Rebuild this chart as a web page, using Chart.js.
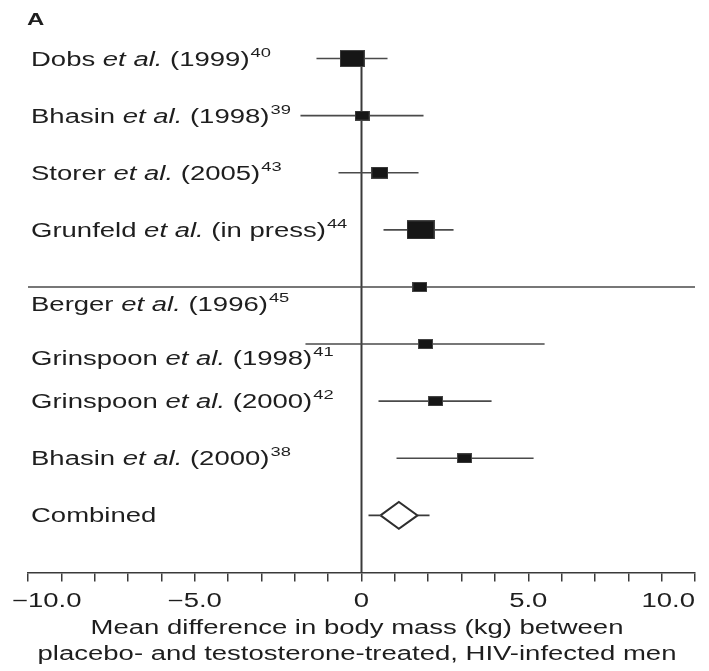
<!DOCTYPE html>
<html>
<head>
<meta charset="utf-8">
<script src="https://cdn.jsdelivr.net/npm/chart.js@4/dist/chart.umd.min.js"></script>
<style>
  html, body { margin: 0; padding: 0; background: #ffffff; }
  #wrap { width: 709px; height: 671px; position: relative; }
</style>
</head>
<body>
<div id="wrap"><canvas id="forest"></canvas></div>
<script>
// Trials in the meta-analysis (top to bottom)
const authors  = ['Dobs', 'Bhasin', 'Storer', 'Grunfeld', 'Berger', 'Grinspoon', 'Grinspoon', 'Bhasin'];
const years    = ['1999', '1998', '2005', 'in press', '1996', '1998', '2000', '2000'];
const refs     = ['40', '39', '43', '44', '45', '41', '42', '38'];
// Mean difference in body mass (kg) with 95% CI
const meanDiff = [-0.28, 0.02, 0.55, 1.77, 1.75, 1.92, 2.22, 3.09];
const ciLow    = [-1.35, -1.83, -0.69, 0.66, -10.0, -1.68, 0.51, 1.05];
const ciHigh   = [0.78, 1.86, 1.71, 2.76, 10.0, 5.49, 3.90, 5.16];
// Relative study weights (%)
const weights  = [22, 8, 11, 28, 7.5, 7.5, 8, 8];
// Pooled estimate
const combinedLabel = 'Combined';
const combinedMean = 1.12;
const combinedDiamond = [0.57, 1.68];
const combinedWhisker = [0.21, 2.04];
// x axis
const axisMin = -10, axisMax = 10;
const tickLabels = { '-10': '\u221210.0', '-5': '\u22125.0', '0': '0', '5': '5.0', '10': '10.0' };
const axisTitle = ['Mean difference in body mass (kg) between',
                   'placebo- and testosterone-treated, HIV-infected men'];
const panelLetter = 'A';

const FONT = '"Liberation Sans", Arial, Helvetica, sans-serif';
const SX = 1.41;          // horizontal widening of the typeface
const INK = '#1e1e1e';
const LINE = '#3a3a3a';
const combinedRow = authors.length;

// square marker whose area follows study weight
function markerFor(w) {
  const h = Math.round(3.6 * Math.sqrt(w));
  const wd = Math.round(h * 1.45);
  const c = document.createElement('canvas');
  c.width = wd; c.height = h;
  const g = c.getContext('2d');
  g.fillStyle = '#161616';
  g.fillRect(0, 0, wd, h);
  g.strokeStyle = '#444';
  g.lineWidth = 1;
  g.strokeRect(0.5, 0.5, wd - 1, h - 1);
  return c;
}

const datasets = [];

// zero reference line
datasets.push({
  type: 'line', data: [{x: 0, y: 0}, {x: 0, y: combinedRow + 1}],
  borderColor: LINE, borderWidth: 2, pointRadius: 0, order: 5
});

// confidence intervals
authors.forEach((a, i) => {
  datasets.push({
    type: 'line', data: [{x: ciLow[i], y: i}, {x: ciHigh[i], y: i}],
    borderColor: '#4a4a4a', borderWidth: 1.6, pointRadius: 0, order: 4
  });
});

// point estimates
datasets.push({
  type: 'scatter',
  data: meanDiff.map((v, i) => ({x: v, y: i})),
  pointStyle: weights.map(markerFor),
  pointRadius: 8,
  order: 1
});

// pooled estimate: whiskers and diamond
const dh = 0.236;
datasets.push({
  type: 'line', data: [{x: combinedWhisker[0], y: combinedRow}, {x: combinedDiamond[0], y: combinedRow}],
  borderColor: LINE, borderWidth: 1.6, pointRadius: 0, order: 3
});
datasets.push({
  type: 'line', data: [{x: combinedDiamond[1], y: combinedRow}, {x: combinedWhisker[1], y: combinedRow}],
  borderColor: LINE, borderWidth: 1.6, pointRadius: 0, order: 3
});
datasets.push({
  type: 'line',
  data: [
    {x: combinedDiamond[0], y: combinedRow},
    {x: combinedMean, y: combinedRow - dh},
    {x: combinedDiamond[1], y: combinedRow},
    {x: combinedMean, y: combinedRow + dh},
    {x: combinedDiamond[0], y: combinedRow}
  ],
  borderColor: '#2e2e2e', borderWidth: 2, pointRadius: 0, tension: 0,
  fill: false, order: 2
});

function stretchedText(ctx, text, x, y, font, align) {
  ctx.save();
  ctx.font = font;
  const w = ctx.measureText(text).width * SX;
  let left = x;
  if (align === 'center') left = x - w / 2;
  else if (align === 'right') left = x - w;
  ctx.translate(left, y);
  ctx.scale(SX, 1);
  ctx.textAlign = 'left';
  ctx.textBaseline = 'alphabetic';
  ctx.fillText(text, 0, 0);
  ctx.restore();
  return w;
}

const textPlugin = {
  id: 'forestText',
  afterDraw(chart) {
    const ctx = chart.ctx;
    const xs = chart.scales.x, ys = chart.scales.y;
    const base = '19.5px ' + FONT;
    const ital = 'italic 19.5px ' + FONT;
    const sup = '13px ' + FONT;
    ctx.save();
    ctx.fillStyle = INK;

    // panel letter
    stretchedText(ctx, panelLetter, 27, 25, 'bold 17px ' + FONT, 'left');

    // study labels
    const shift = {4: 17, 5: 14};
    authors.forEach((a, i) => {
      const yb = ys.getPixelForValue(i) + 7 + (shift[i] || 0);
      let x = 31;
      x += stretchedText(ctx, a + ' ', x, yb, base, 'left');
      x += stretchedText(ctx, 'et al.', x, yb, ital, 'left');
      x += stretchedText(ctx, ' (' + years[i] + ')', x, yb, base, 'left');
      stretchedText(ctx, refs[i], x + 1, yb - 9, sup, 'left');
    });
    stretchedText(ctx, combinedLabel, 31, ys.getPixelForValue(combinedRow) + 7, base, 'left');

    // tick labels
    const tb = 606.5;
    Object.keys(tickLabels).forEach(k => {
      const v = Number(k);
      const px = xs.getPixelForValue(v);
      const t = tickLabels[k];
      if (v === axisMin) {
        ctx.font = base;
        const mw = ctx.measureText('\u2212').width * SX;
        stretchedText(ctx, t, px - mw, tb, base, 'left');
      } else if (v === axisMax) {
        stretchedText(ctx, t, px, tb, base, 'right');
      } else {
        stretchedText(ctx, t, px, tb, base, 'center');
      }
    });

    // axis title
    stretchedText(ctx, axisTitle[0], 357, 634, base, 'center');
    stretchedText(ctx, axisTitle[1], 357, 660, base, 'center');
    ctx.restore();
  }
};

new Chart(document.getElementById('forest'), {
  data: { datasets },
  options: {
    responsive: true,
    maintainAspectRatio: false,
    animation: false,
    events: [],
    layout: { autoPadding: false, padding: { left: 28, right: 14, top: 1.4, bottom: 89.5 } },
    plugins: { legend: { display: false }, tooltip: { enabled: false } },
    scales: {
      x: {
        type: 'linear', min: axisMin, max: axisMax,
        ticks: { stepSize: 1, display: false },
        grid: { drawOnChartArea: false, drawTicks: true, tickLength: 9, color: LINE, lineWidth: 1.5 },
        border: { display: true, color: LINE, width: 1.5 }
      },
      y: {
        type: 'linear', min: -1, max: combinedRow + 1, reverse: true, display: false
      }
    }
  },
  plugins: [textPlugin]
});
</script>
</body>
</html>
